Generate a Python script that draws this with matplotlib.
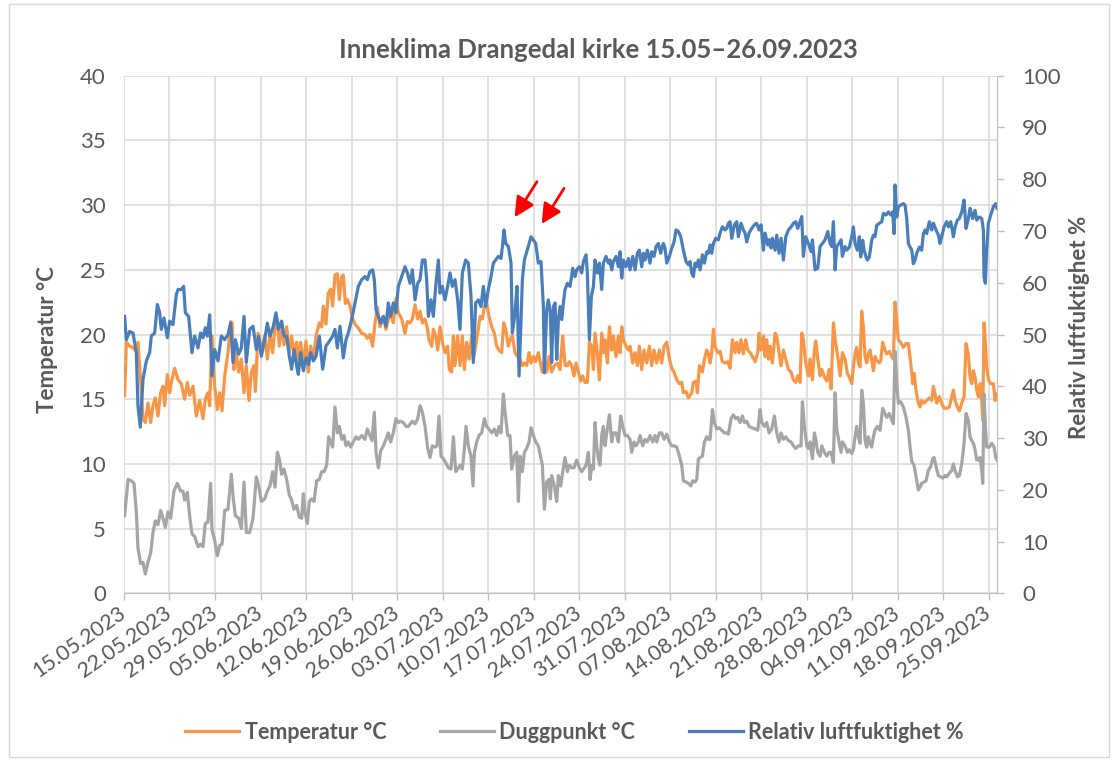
import numpy as np
import matplotlib
matplotlib.use("Agg")
import matplotlib.pyplot as plt
from matplotlib.patches import Rectangle

plt.rcParams['font.family'] = ['Lato', 'DejaVu Sans']

TITLE = "Inneklima Drangedal kirke 15.05–26.09.2023"
TEXT_COLOR = "#595959"
C_TEMP = "#F79646"
C_DEW = "#A5A5A5"
C_RH = "#4A7EBB"

# weekly ticks, x is days after 15.05.2023
tick_labels = ["15.05.2023", "22.05.2023", "29.05.2023", "05.06.2023", "12.06.2023",
               "19.06.2023", "26.06.2023", "03.07.2023", "10.07.2023", "17.07.2023",
               "24.07.2023", "31.07.2023", "07.08.2023", "14.08.2023", "21.08.2023",
               "28.08.2023", "04.09.2023", "11.09.2023", "18.09.2023", "25.09.2023"]

# (day, temperature °C)
temp_points = [
    (0.1, 15.3), (0.36, 19.4), (0.87, 19.1), (1.38, 19.0), (1.9, 18.7), (2.15, 19.4), (2.56, 16.5),
    (2.92, 13.5), (3.28, 13.2), (3.69, 14.7), (4.1, 13.2), (4.46, 14.5), (4.82, 15.1), (5.23, 13.7),
    (5.64, 15.5), (6.0, 16.0), (6.26, 14.5), (6.67, 16.9), (7.03, 15.5), (7.28, 16.3), (7.79, 17.4),
    (8.31, 16.5), (8.82, 16.2), (9.33, 15.0), (9.74, 16.3), (10.1, 15.3), (10.62, 16.0), (11.13, 13.7),
    (11.64, 14.9), (12.15, 13.5), (12.51, 15.0), (12.92, 15.5), (13.18, 14.5), (13.54, 19.9), (13.95, 16.0),
    (14.36, 14.2), (14.72, 15.5), (15.08, 14.1), (15.49, 16.8), (16.0, 18.6), (16.41, 21.0), (16.62, 20.9),
    (16.92, 17.3), (17.28, 18.6), (17.64, 17.1), (18.05, 18.1), (18.46, 15.5), (18.82, 17.6), (19.23, 14.9),
    (19.59, 17.1), (20.0, 17.6), (20.21, 15.6), (20.62, 20.1), (21.13, 18.8), (21.64, 19.9),
    (22.05, 18.1), (22.46, 20.1), (22.87, 18.6), (23.23, 20.6), (23.59, 21.2), (23.89, 19.1), (24.25, 20.9),
    (24.61, 19.2), (25.02, 20.6), (25.43, 18.6), (25.79, 19.9), (26.15, 18.5), (26.56, 19.4), (26.82, 17.6),
    (27.18, 19.4), (27.59, 17.6), (28.0, 19.5), (28.36, 17.1), (28.72, 19.1), (29.13, 18.1), (29.54, 19.9),
    (30.05, 20.9), (30.41, 20.6), (30.66, 22.2), (31.07, 20.8), (31.43, 23.2), (31.79, 23.5), (32.1, 22.2),
    (32.46, 24.6), (32.82, 24.7), (33.13, 22.7), (33.49, 24.5), (33.74, 24.6), (34.05, 22.4), (34.36, 22.7),
    (34.77, 22.2), (35.18, 21.2), (35.54, 20.8), (36.05, 20.5), (36.56, 20.1), (37.07, 20.0), (37.43, 19.7),
    (37.84, 20.0), (38.25, 19.1), (38.61, 20.9), (38.97, 22.1), (39.38, 20.6), (39.9, 21.4), (40.3, 20.4),
    (40.66, 21.2), (41.02, 21.7), (41.43, 20.9), (41.84, 22.8), (42.2, 21.7), (42.72, 21.2), (43.23, 20.1),
    (43.59, 21.0), (44.0, 20.9), (44.36, 21.2), (44.77, 22.3), (45.18, 21.2), (45.54, 21.8), (45.9, 20.9),
    (46.31, 21.2), (46.62, 20.6), (46.92, 19.6), (47.33, 19.1), (47.59, 20.4), (47.95, 19.9), (48.26, 18.8),
    (48.61, 20.6), (48.97, 19.4), (49.38, 18.6), (49.79, 19.1), (50.05, 17.3), (50.41, 17.1), (50.67, 19.9),
    (50.92, 17.6), (51.33, 19.9), (51.69, 17.6), (52.05, 19.9), (52.36, 17.3), (52.72, 19.4), (53.08, 18.1),
    (53.49, 20.0), (53.74, 18.1), (54.1, 19.1), (54.41, 20.1), (54.77, 21.4), (55.13, 21.2), (55.44, 22.2),
    (55.79, 22.4), (56.15, 21.4), (56.56, 20.6), (56.97, 20.1), (57.33, 19.1), (57.69, 18.8), (58.1, 18.6),
    (58.41, 20.9), (58.72, 20.4), (59.13, 19.1), (59.38, 19.6), (59.74, 19.9), (60.15, 18.6), (60.56, 18.3),
    (60.92, 18.1), (61.28, 17.6), (61.59, 17.8), (61.95, 17.6), (62.31, 18.6), (62.62, 17.8), (62.97, 18.3),
    (63.33, 17.9), (63.74, 18.6), (64.15, 17.6), (64.36, 17.1), (64.67, 18.1), (65.03, 17.1), (65.38, 18.3),
    (65.79, 17.1), (66.21, 17.6), (66.67, 17.8), (67.08, 17.3), (67.49, 19.9), (67.85, 17.6), (68.21, 17.6),
    (68.51, 17.9), (68.87, 17.6), (69.23, 16.8), (69.54, 17.8), (69.9, 17.1), (70.26, 16.4), (70.56, 16.8),
    (70.92, 16.3), (71.28, 16.3), (71.59, 19.4), (71.95, 19.1), (72.21, 17.3), (72.46, 20.1), (72.82, 18.6),
    (73.13, 16.5), (73.49, 20.1), (73.74, 18.6), (74.0, 19.6), (74.36, 17.8), (74.67, 20.6), (75.03, 18.8),
    (75.28, 19.9), (75.69, 18.3), (76.05, 19.9), (76.31, 18.6), (76.57, 20.6), (76.82, 19.6), (77.23, 19.1),
    (77.59, 18.8), (77.85, 19.1), (78.26, 17.8), (78.62, 18.6), (78.97, 17.6), (79.28, 19.1), (79.64, 17.3),
    (80.0, 18.8), (80.41, 17.8), (80.82, 19.1), (81.18, 17.6), (81.54, 18.8), (81.95, 17.8), (82.36, 18.8),
    (82.72, 17.8), (83.08, 19.1), (83.49, 19.4), (83.9, 18.1), (84.26, 17.4), (84.62, 17.1), (85.03, 16.5),
    (85.44, 16.2), (85.8, 16.3), (86.05, 15.5), (86.46, 15.6), (86.82, 15.1), (87.08, 15.3), (87.33, 15.5),
    (87.59, 16.3), (88.0, 16.4), (88.21, 15.5), (88.51, 17.6), (88.98, 17.1), (89.29, 18.1), (89.64, 18.8),
    (89.9, 18.5), (90.16, 17.8), (90.41, 18.6), (90.67, 20.4), (90.92, 19.1), (91.33, 18.6), (91.7, 18.7),
    (92.05, 17.9), (92.47, 17.8), (92.87, 17.9), (93.23, 17.4), (93.59, 19.6), (94.0, 18.6), (94.26, 19.4),
    (94.62, 18.6), (94.92, 19.6), (95.28, 18.5), (95.64, 19.6), (95.95, 18.8), (96.31, 18.6), (96.67, 18.3),
    (97.08, 17.9), (97.49, 18.6), (97.69, 20.1), (98.0, 18.8), (98.36, 19.9), (98.62, 18.3), (98.87, 19.6),
    (99.13, 18.1), (99.39, 19.1), (99.74, 17.8), (100.16, 20.1), (100.41, 19.9), (100.77, 18.6), (101.08, 17.6),
    (101.44, 18.8), (101.8, 18.1), (102.21, 17.3), (102.62, 17.1), (102.98, 16.5), (103.33, 16.3), (103.64, 16.8),
    (104.0, 16.3), (104.26, 20.1), (104.51, 19.6), (104.87, 17.8), (105.28, 16.8), (105.54, 18.1), (105.9, 16.5),
    (106.21, 18.8), (106.41, 19.5), (106.72, 18.1), (107.08, 16.8), (107.34, 17.3), (107.75, 16.7), (108.1, 16.4),
    (108.46, 17.3), (108.77, 15.8), (109.13, 20.9), (109.39, 19.6), (109.8, 18.3), (110.16, 16.8), (110.51, 18.6),
    (110.92, 18.1), (111.28, 17.0), (111.59, 16.7), (111.95, 16.2), (112.2, 17.5), (112.46, 18.5), (112.71, 19.0),
    (112.97, 17.8), (113.23, 17.5), (113.48, 21.8), (113.74, 20.6), (114.0, 18.3), (114.25, 17.8), (114.51, 18.5),
    (114.77, 18.8), (115.02, 18.0), (115.28, 17.2), (115.53, 18.3), (115.79, 18.0), (116.2, 17.8), (116.41, 18.0),
    (116.71, 19.4), (117.07, 18.8), (117.33, 18.5), (117.74, 18.7), (118.1, 18.3), (118.36, 18.1), (118.61, 22.5),
    (118.87, 21.1), (119.12, 19.6), (119.48, 19.4), (119.89, 19.0), (120.3, 19.3), (120.66, 19.3), (121.02, 17.8),
    (121.33, 16.2), (121.53, 17.0), (121.84, 15.7), (122.2, 14.7), (122.46, 14.4), (122.71, 14.9), (123.07, 14.7),
    (123.48, 14.9), (123.89, 15.1), (124.25, 14.9), (124.51, 16.0), (124.77, 15.4), (125.02, 14.7), (125.43, 15.2),
    (125.79, 14.7), (126.15, 14.3), (126.56, 14.3), (126.97, 14.4), (127.33, 15.2), (127.59, 15.7), (127.84, 14.9),
    (128.2, 14.4), (128.51, 14.1), (128.87, 14.7), (129.23, 15.2), (129.53, 19.3), (129.89, 18.5), (130.15, 16.7),
    (130.41, 16.2), (130.66, 17.2), (130.92, 16.7), (131.18, 15.7), (131.43, 15.2), (131.69, 16.2), (131.95, 14.9),
    (132.1, 13.4), (132.3, 20.9), (132.51, 19.3), (132.71, 17.5), (132.97, 16.5), (133.33, 16.2), (133.74, 16.2),
    (134.0, 14.9), (134.3, 15.4),
]

# (day, dew point °C)
dew_points = [
    (0.1, 6.0), (0.62, 8.8), (1.13, 8.7), (1.54, 8.5), (1.9, 6.3), (2.15, 3.5), (2.56, 2.3), (2.92, 2.4),
    (3.28, 1.5), (3.69, 2.4), (4.1, 3.1), (4.46, 4.7), (4.82, 5.6), (5.23, 5.3), (5.64, 6.4), (6.0, 5.8),
    (6.36, 5.1), (6.77, 6.3), (7.18, 5.8), (7.69, 7.9), (8.21, 8.5), (8.72, 7.9), (9.08, 7.9), (9.33, 7.2),
    (9.74, 7.8), (10.1, 6.0), (10.46, 4.6), (10.87, 4.4), (11.38, 3.6), (11.79, 3.8), (12.15, 3.6), (12.51, 5.4),
    (12.92, 5.5), (13.33, 8.5), (13.54, 4.9), (13.95, 4.1), (14.36, 2.9), (14.72, 3.7), (15.08, 3.8), (15.49, 6.4),
    (16.0, 6.5), (16.51, 9.2), (16.82, 7.3), (17.13, 6.0), (17.64, 5.8), (18.05, 5.0), (18.46, 8.6), (18.82, 4.7),
    (19.33, 4.7), (19.85, 5.8), (20.36, 9.0), (20.72, 8.3), (21.13, 7.1), (21.64, 7.3), (22.05, 7.9), (22.46, 8.3),
    (22.87, 9.4), (23.23, 8.2), (23.59, 10.9), (23.89, 10.4), (24.25, 9.2), (24.61, 9.6), (25.02, 8.8), (25.43, 7.6),
    (25.79, 7.2), (26.15, 6.5), (26.56, 6.8), (26.97, 5.9), (27.33, 5.8), (27.59, 7.7), (27.84, 6.3), (28.2, 5.4),
    (28.51, 7.1), (28.87, 7.3), (29.23, 7.1), (29.64, 8.7), (30.05, 8.8), (30.41, 9.4), (30.77, 9.4), (31.18, 9.9),
    (31.48, 12.1), (31.79, 11.7), (32.1, 11.3), (32.46, 14.4), (32.82, 12.4), (33.13, 12.9), (33.49, 11.9),
    (33.84, 12.2), (34.15, 11.4), (34.51, 11.7), (34.87, 11.3), (35.28, 11.7), (35.69, 12.1), (36.05, 11.9),
    (36.56, 12.2), (37.07, 11.9), (37.43, 12.7), (37.84, 12.2), (38.15, 11.8), (38.51, 14.0), (38.77, 10.9),
    (39.13, 9.7), (39.48, 11.0), (39.9, 11.4), (40.3, 11.9), (40.66, 12.4), (41.02, 11.7), (41.43, 12.4),
    (41.84, 13.5), (42.2, 13.2), (42.56, 13.3), (42.97, 13.2), (43.38, 12.9), (43.74, 12.9), (44.36, 13.3),
    (44.77, 13.1), (45.18, 13.5), (45.54, 14.5), (45.9, 14.0), (46.31, 12.9), (46.72, 11.2), (47.08, 10.5),
    (47.44, 11.4), (47.85, 11.3), (48.15, 11.4), (48.46, 13.7), (48.77, 10.6), (49.13, 10.4), (49.49, 10.1),
    (49.9, 9.7), (50.31, 9.6), (50.67, 12.1), (51.03, 9.4), (51.33, 9.6), (51.69, 9.9), (52.05, 9.6), (52.36, 11.2),
    (52.62, 12.9), (52.97, 11.4), (53.38, 10.6), (53.69, 8.3), (53.9, 10.9), (54.26, 11.7), (54.62, 12.2),
    (55.03, 12.4), (55.44, 13.5), (55.79, 12.9), (56.15, 12.7), (56.56, 12.4), (56.97, 12.7), (57.33, 12.2),
    (57.69, 12.9), (58.0, 12.4), (58.36, 15.4), (58.62, 14.0), (59.03, 12.2), (59.38, 12.2), (59.64, 9.6),
    (60.05, 10.6), (60.41, 10.9), (60.67, 7.1), (60.92, 10.6), (61.28, 9.4), (61.59, 10.9), (61.95, 11.2),
    (62.31, 11.7), (62.62, 12.8), (62.97, 12.2), (63.33, 11.7), (63.74, 11.4), (64.15, 10.4), (64.36, 9.9),
    (64.67, 6.5), (65.03, 8.6), (65.38, 8.8), (65.59, 7.3), (65.79, 9.1), (66.21, 8.3), (66.57, 7.1), (66.82, 9.1),
    (67.18, 8.3), (67.49, 9.4), (67.85, 10.5), (68.21, 9.4), (68.51, 9.9), (68.87, 9.7), (69.23, 9.7),
    (69.64, 10.3), (70.05, 9.7), (70.41, 9.4), (70.67, 9.6), (71.08, 9.9), (71.44, 10.9), (71.69, 8.8),
    (71.95, 9.9), (72.21, 9.6), (72.46, 13.2), (72.72, 11.4), (72.97, 10.4), (73.23, 9.9), (73.49, 12.2),
    (73.74, 12.9), (74.0, 11.4), (74.26, 12.4), (74.67, 13.8), (75.03, 11.7), (75.28, 12.4), (75.69, 12.4),
    (76.05, 11.7), (76.41, 13.7), (76.72, 12.9), (77.08, 12.2), (77.44, 12.2), (77.85, 11.9), (78.1, 10.9),
    (78.46, 11.7), (78.77, 11.4), (79.13, 11.7), (79.38, 12.2), (79.79, 11.4), (80.15, 11.9), (80.51, 11.7),
    (80.92, 12.2), (81.33, 11.7), (81.69, 12.2), (81.95, 11.7), (82.36, 12.4), (82.72, 12.4), (83.08, 11.9),
    (83.49, 12.3), (83.9, 11.7), (84.26, 11.4), (84.62, 11.4), (85.03, 11.3), (85.44, 10.6), (85.8, 9.9),
    (86.05, 8.7), (86.46, 8.6), (86.82, 8.5), (87.18, 8.3), (87.49, 8.7), (87.85, 8.6), (88.1, 8.8),
    (88.36, 10.4), (88.98, 10.6), (89.29, 11.7), (89.64, 12.1), (89.9, 11.9), (90.16, 11.9), (90.52, 14.2),
    (90.82, 13.2), (91.18, 12.7), (91.54, 12.8), (91.95, 12.6), (92.36, 12.4), (92.72, 12.4), (92.98, 12.3),
    (93.39, 13.5), (93.74, 13.8), (94.1, 13.5), (94.41, 13.6), (94.77, 13.2), (95.13, 13.7), (95.44, 13.2),
    (95.8, 13.3), (96.16, 12.9), (96.56, 12.8), (97.08, 12.7), (97.49, 12.6), (97.85, 14.2), (98.11, 13.2),
    (98.52, 12.9), (98.87, 13.2), (99.23, 12.4), (99.64, 12.7), (100.05, 13.7), (100.41, 12.4), (100.77, 11.7),
    (101.08, 12.4), (101.44, 11.9), (101.8, 12.1), (102.21, 11.8), (102.62, 11.7), (102.98, 11.4), (103.33, 11.2),
    (103.75, 11.4), (104.15, 11.4), (104.36, 14.8), (104.67, 12.9), (105.03, 11.4), (105.28, 11.2), (105.54, 11.7),
    (105.9, 10.4), (106.21, 12.4), (106.41, 11.9), (106.72, 10.9), (107.08, 10.6), (107.34, 11.4), (107.75, 10.9),
    (108.1, 10.6), (108.46, 10.9), (108.77, 10.9), (109.13, 10.1), (109.39, 15.5), (109.64, 12.7), (110.0, 11.7),
    (110.31, 10.9), (110.51, 11.7), (110.92, 11.4), (111.28, 10.9), (111.59, 11.1), (111.95, 10.8), (112.2, 11.1),
    (112.46, 12.1), (112.71, 12.9), (112.97, 12.1), (113.23, 11.6), (113.48, 15.7), (113.74, 14.7), (114.0, 11.8),
    (114.25, 11.3), (114.51, 12.1), (114.77, 11.6), (115.02, 11.3), (115.28, 12.1), (115.53, 12.6), (115.89, 12.9),
    (116.3, 12.6), (116.71, 14.3), (117.07, 13.9), (117.33, 13.6), (117.74, 13.9), (118.1, 13.4), (118.36, 13.1),
    (118.61, 18.7), (118.87, 16.2), (119.12, 14.7), (119.48, 14.8), (119.89, 14.4), (120.3, 13.6), (120.66, 12.6),
    (120.92, 11.3), (121.18, 10.2), (121.53, 9.9), (121.84, 9.0), (122.2, 8.0), (122.46, 8.2), (122.71, 8.5),
    (123.07, 8.6), (123.38, 8.7), (123.74, 9.5), (124.1, 9.8), (124.41, 10.4), (124.61, 10.5), (124.92, 9.8),
    (125.28, 9.1), (125.64, 9.0), (125.95, 8.9), (126.3, 9.1), (126.56, 9.0), (126.97, 9.3), (127.33, 9.5),
    (127.59, 10.0), (127.84, 9.5), (128.2, 9.0), (128.51, 9.1), (128.87, 10.0), (129.23, 11.6), (129.53, 13.9),
    (129.89, 13.4), (130.15, 12.1), (130.41, 11.8), (130.66, 11.6), (130.92, 11.1), (131.18, 10.3), (131.43, 10.3),
    (131.69, 10.5), (131.95, 9.5), (132.1, 8.5), (132.3, 15.4), (132.51, 12.9), (132.71, 11.3), (133.1, 11.3),
    (133.48, 11.6), (133.84, 11.3), (134.1, 10.5), (134.3, 10.3),
]

# (day, relative humidity %)
rh_points = [
    (0.1, 53.5), (0.36, 49.0), (0.87, 50.6), (1.38, 50.3), (1.9, 46.5), (2.15, 36.2), (2.51, 32.1), (2.92, 41.3),
    (3.44, 44.9), (3.95, 46.5), (4.2, 49.7), (4.72, 50.3), (5.13, 55.8), (5.49, 54.2), (5.74, 51.0), (6.15, 53.2),
    (6.67, 49.4), (7.03, 52.6), (7.54, 51.9), (8.05, 57.7), (8.31, 58.7), (8.82, 58.7), (9.18, 59.3), (9.44, 54.2),
    (9.95, 53.5), (10.46, 46.5), (10.87, 49.7), (11.38, 47.4), (11.79, 50.3), (12.15, 49.4), (12.51, 51.3),
    (12.82, 49.7), (13.18, 53.8), (13.54, 42.0), (13.95, 47.1), (14.46, 44.9), (14.97, 49.7), (15.49, 49.0),
    (16.0, 50.0), (16.41, 52.2), (16.77, 44.6), (17.13, 49.0), (17.64, 46.2), (18.05, 47.4), (18.46, 53.5),
    (18.82, 44.6), (19.33, 51.0), (19.85, 51.6), (20.36, 47.1), (20.72, 49.7), (21.13, 45.8), (21.64, 49.0),
    (22.05, 52.2), (22.46, 49.7), (22.97, 51.6), (23.38, 54.2), (23.74, 51.0), (24.25, 52.6), (24.61, 49.7),
    (25.02, 49.7), (25.43, 45.8), (25.79, 43.3), (26.15, 47.1), (26.56, 43.9), (26.82, 42.3), (27.18, 46.5),
    (27.59, 43.0), (28.0, 45.5), (28.36, 44.2), (28.72, 46.5), (29.13, 44.9), (29.54, 45.8), (30.05, 49.7),
    (30.56, 43.3), (31.07, 47.8), (31.59, 48.7), (32.1, 49.7), (32.46, 51.0), (32.82, 47.4), (33.23, 51.6),
    (33.74, 45.5), (34.15, 49.0), (34.51, 50.3), (35.02, 52.9), (35.54, 56.1), (36.05, 59.3), (36.56, 60.6),
    (37.07, 61.2), (37.43, 60.6), (37.84, 62.2), (38.25, 62.5), (38.51, 60.6), (38.77, 54.8), (39.13, 53.5),
    (39.48, 52.2), (39.9, 53.5), (40.3, 51.6), (40.66, 56.1), (41.02, 53.5), (41.43, 56.1), (41.84, 54.2),
    (42.2, 59.3), (42.72, 61.2), (43.23, 63.1), (43.59, 61.9), (44.0, 59.9), (44.36, 62.5), (44.77, 56.7),
    (45.18, 59.9), (45.54, 60.6), (45.9, 64.4), (46.31, 64.4), (46.56, 60.6), (46.82, 53.5), (47.23, 56.7),
    (47.59, 53.5), (47.95, 59.3), (48.36, 64.4), (48.61, 58.0), (48.97, 59.3), (49.38, 56.7), (49.79, 59.3),
    (50.15, 61.9), (50.51, 59.3), (50.92, 60.6), (51.33, 56.7), (51.69, 51.0), (52.05, 61.9), (52.56, 64.4),
    (52.97, 63.8), (53.38, 57.4), (53.74, 44.6), (54.1, 56.1), (54.51, 56.7), (54.92, 55.4), (55.28, 59.3),
    (55.64, 55.4), (56.05, 58.7), (56.46, 61.2), (56.82, 63.8), (57.18, 64.4), (57.59, 65.1), (58.0, 64.7),
    (58.21, 67.0), (58.46, 70.2), (58.72, 67.6), (59.13, 67.0), (59.54, 63.8), (59.74, 50.3), (60.15, 54.2),
    (60.46, 59.3), (60.77, 42.0), (61.08, 52.9), (61.28, 60.6), (61.59, 64.4), (61.95, 66.0), (62.31, 67.6),
    (62.62, 68.9), (62.97, 68.3), (63.33, 67.6), (63.74, 63.8), (64.15, 64.1), (64.51, 55.4), (64.67, 42.6),
    (65.03, 54.8), (65.28, 56.7), (65.59, 54.2), (65.79, 44.6), (66.05, 55.4), (66.31, 56.1), (66.57, 45.2),
    (66.82, 52.9), (67.08, 55.4), (67.33, 52.9), (67.59, 56.1), (67.85, 58.7), (68.21, 59.9), (68.62, 59.3),
    (69.03, 62.8), (69.38, 61.2), (69.64, 62.5), (70.05, 63.1), (70.41, 61.9), (70.67, 64.1), (71.08, 65.4),
    (71.28, 61.9), (71.59, 49.0), (71.9, 57.4), (72.21, 59.3), (72.46, 64.4), (72.82, 61.9), (73.13, 63.8),
    (73.49, 58.7), (73.74, 63.8), (74.15, 65.1), (74.51, 63.8), (74.77, 64.4), (75.03, 62.5), (75.28, 64.1),
    (75.69, 65.1), (76.05, 63.1), (76.31, 66.0), (76.57, 60.9), (76.82, 64.4), (77.23, 63.1), (77.59, 64.7),
    (77.85, 62.5), (78.26, 65.1), (78.62, 62.5), (78.97, 65.7), (79.28, 66.3), (79.64, 63.1), (79.9, 65.7),
    (80.15, 64.4), (80.51, 66.3), (80.92, 63.8), (81.18, 66.0), (81.54, 65.1), (81.85, 67.0), (82.21, 67.6),
    (82.56, 65.7), (82.97, 67.6), (83.23, 66.7), (83.49, 63.8), (83.9, 65.1), (84.26, 66.7), (84.62, 67.9),
    (84.92, 70.2), (85.28, 69.9), (85.64, 68.9), (86.05, 66.3), (86.46, 64.1), (86.82, 63.5), (87.08, 64.1),
    (87.33, 61.9), (87.59, 61.2), (87.85, 63.8), (88.1, 63.1), (88.36, 64.4), (88.62, 62.5), (88.98, 65.4),
    (89.29, 63.8), (89.64, 66.0), (89.9, 65.7), (90.16, 67.3), (90.41, 65.7), (90.67, 67.6), (91.03, 68.6),
    (91.44, 68.3), (91.7, 69.6), (92.05, 70.8), (92.47, 70.2), (92.72, 70.5), (92.98, 71.5), (93.23, 71.8),
    (93.49, 68.6), (93.9, 71.2), (94.26, 71.8), (94.51, 68.9), (94.92, 71.5), (95.28, 70.2), (95.54, 69.6),
    (95.8, 67.9), (96.16, 69.6), (96.56, 70.5), (96.97, 71.2), (97.33, 71.5), (97.69, 70.2), (98.0, 71.2),
    (98.36, 66.3), (98.62, 69.6), (99.03, 67.3), (99.23, 68.3), (99.54, 66.7), (99.74, 68.6), (100.16, 66.3),
    (100.41, 69.2), (100.77, 65.7), (101.08, 68.6), (101.44, 64.4), (101.8, 68.9), (102.21, 70.2), (102.62, 70.8),
    (102.98, 71.5), (103.33, 71.8), (103.64, 70.5), (104.0, 71.8), (104.26, 72.8), (104.51, 65.1), (104.87, 68.9),
    (105.28, 67.6), (105.7, 66.0), (105.9, 68.3), (106.31, 62.5), (106.72, 62.8), (107.08, 67.0), (107.44, 67.6),
    (107.85, 68.3), (108.26, 69.9), (108.62, 67.6), (108.88, 67.0), (109.13, 71.8), (109.39, 62.5), (109.64, 67.0),
    (110.0, 67.6), (110.31, 68.3), (110.51, 65.1), (110.92, 67.0), (111.18, 66.3), (111.59, 66.9), (111.95, 68.9),
    (112.2, 70.8), (112.46, 67.6), (112.82, 66.3), (113.12, 68.9), (113.33, 65.0), (113.64, 68.2), (113.84, 66.3),
    (114.15, 65.0), (114.36, 64.4), (114.66, 65.0), (115.02, 68.2), (115.28, 69.2), (115.53, 68.9), (115.79, 71.1),
    (116.2, 71.5), (116.56, 71.8), (116.82, 73.4), (117.23, 73.1), (117.59, 73.7), (117.95, 73.1), (118.25, 73.7),
    (118.46, 69.5), (118.61, 78.9), (118.87, 72.7), (119.12, 74.7), (119.48, 75.0), (119.89, 75.3), (120.15, 75.0),
    (120.41, 72.4), (120.66, 67.6), (120.92, 66.9), (121.18, 66.3), (121.43, 63.7), (121.69, 64.4), (121.95, 65.7),
    (122.36, 66.9), (122.71, 66.3), (122.97, 69.5), (123.23, 70.2), (123.48, 69.5), (123.89, 71.8), (124.25, 70.2),
    (124.51, 71.5), (124.92, 70.2), (125.28, 69.2), (125.53, 67.6), (125.79, 68.9), (126.15, 70.8), (126.56, 71.8),
    (126.82, 70.8), (127.18, 71.8), (127.59, 68.9), (127.84, 70.8), (128.2, 72.1), (128.51, 72.4), (128.87, 73.7),
    (129.23, 76.0), (129.53, 70.5), (129.89, 72.4), (130.15, 74.4), (130.56, 72.4), (130.92, 74.0), (131.18, 72.1),
    (131.59, 72.7), (131.95, 72.4), (132.2, 70.2), (132.3, 61.1), (132.51, 59.9), (132.71, 66.3), (132.97, 71.5),
    (133.33, 73.1), (133.74, 74.7), (134.1, 75.3), (134.3, 74.4),
]

# the two humidity peaks marked with red arrows
arrow_peaks = [58.46, 62.62]


def split(points):
    arr = np.array(points)
    return arr[:, 0], arr[:, 1]


temp_x, temp_y = split(temp_points)
dew_x, dew_y = split(dew_points)
rh_x, rh_y = split(rh_points)
tick_pos = np.arange(len(tick_labels)) * 7

fig = plt.figure(figsize=(11.18, 7.65), dpi=100)
fig.patches.append(Rectangle((0.008, 0.01), 0.984, 0.985, transform=fig.transFigure,
                             fill=False, edgecolor="#D9D9D9", linewidth=1))

ax = fig.add_axes([0.1109, 0.2244, 0.7809, 0.6766])
ax2 = ax.twinx()

l1, = ax.plot(temp_x, temp_y, color=C_TEMP, lw=2.3, label="Temperatur °C")
l2, = ax.plot(dew_x, dew_y, color=C_DEW, lw=2.3, label="Duggpunkt °C")
l3, = ax2.plot(rh_x, rh_y, color=C_RH, lw=2.3, label="Relativ luftfuktighet %")

ax.set_xlim(0, 134.3)
ax.set_ylim(0, 40)
ax2.set_ylim(0, 100)
ax.set_yticks(np.arange(0, 41, 5))
ax2.set_yticks(np.arange(0, 101, 10))
ax.set_xticks(tick_pos)
ax.set_xticklabels(tick_labels, rotation=35, ha="right", va="center", rotation_mode="anchor")

ax.grid(True, color="#D9D9D9", lw=1.1)
ax.set_axisbelow(True)

for s in ["top", "left", "right"]:
    ax.spines[s].set_visible(False)
for s in ["top", "left", "bottom"]:
    ax2.spines[s].set_visible(False)
ax.spines["bottom"].set_color("#BFBFBF")
ax2.spines["right"].set_color("#BFBFBF")

ax.tick_params(axis="x", colors="#BFBFBF", length=5, width=1, labelcolor=TEXT_COLOR,
               labelsize=15.3, pad=8)
ax.tick_params(axis="y", length=0, labelcolor=TEXT_COLOR, labelsize=16, pad=13)
ax2.tick_params(axis="y", colors="#BFBFBF", length=5, width=1, labelcolor=TEXT_COLOR,
                labelsize=16, pad=13)

fig.text(0.535, 0.934, TITLE, ha="center", va="center", fontsize=18.5,
         fontweight="bold", color=TEXT_COLOR)
fig.text(48 / 1118, 1 - 340 / 765, "Temperatur °C", rotation=90, ha="center", va="center",
         fontsize=16, fontweight="bold", color=TEXT_COLOR)
fig.text(1080 / 1118, 1 - 327 / 765, "Relativ luftfuktighet %", rotation=90, ha="center",
         va="center", fontsize=16, fontweight="bold", color=TEXT_COLOR)

for day in arrow_peaks:
    peak = np.interp(day, rh_x, rh_y)
    ax2.annotate("", xy=(day + 1.4, peak + 2.0), xytext=(day + 5.3, peak + 9.8),
                 arrowprops=dict(arrowstyle="-|>", color="red", lw=2.0, mutation_scale=30))

leg = fig.legend(handles=[l1, l2, l3], loc="center", bbox_to_anchor=(0.514, 0.043), ncol=3,
                 frameon=False, handlelength=2.5, handletextpad=0.25, columnspacing=2.5,
                 prop={"size": 15.5, "weight": "bold"})
for t in leg.get_texts():
    t.set_color(TEXT_COLOR)

fig.savefig("out.png", dpi=100)
